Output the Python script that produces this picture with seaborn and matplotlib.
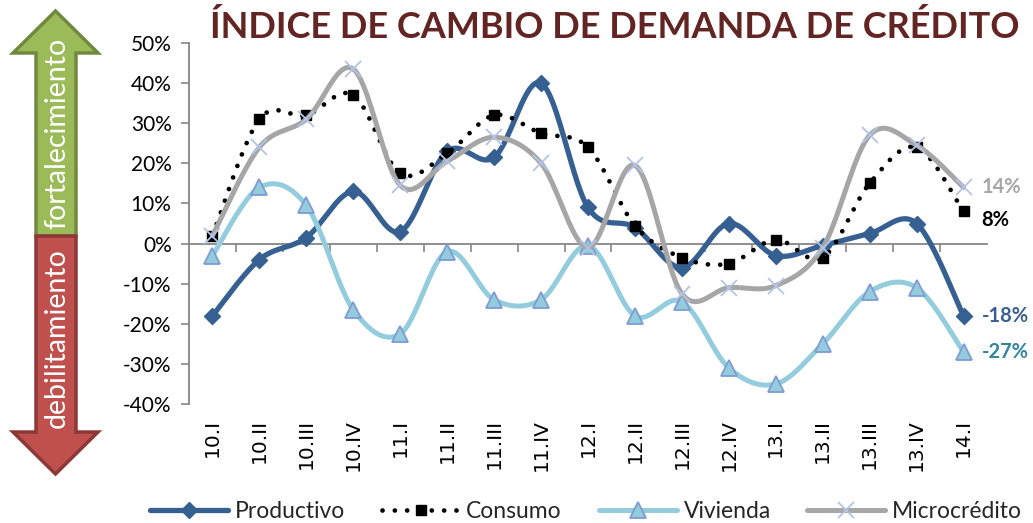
import numpy as np
import matplotlib
matplotlib.use("Agg")
import matplotlib.pyplot as plt
import seaborn as sns
from matplotlib.patches import Polygon
from matplotlib.lines import Line2D
from matplotlib.ticker import PercentFormatter, FixedLocator, NullLocator

# Quarterly credit-demand change index (%)
quarters = ["10.I", "10.II", "10.III", "10.IV", "11.I", "11.II", "11.III", "11.IV",
            "12.I", "12.II", "12.III", "12.IV", "13.I", "13.II", "13.III", "13.IV", "14.I"]
productivo = [-18, -4, 1.5, 13, 3, 23, 21.5, 40, 9, 4, -6, 5, -3, -0.5, 2.5, 5, -18]
consumo = [2, 31, 32, 37, 17.5, 22.5, 32, 27.5, 24, 4.5, -3.5, -5, 1, -3.5, 15, 24, 8]
vivienda = [-3, 14, 9.5, -16.5, -22.5, -2, -14, -14, -0.5, -18, -14.5, -31, -35, -25, -12, -11, -27]
microcredito = [2, 24, 31, 43.5, 14.5, 20.5, 26.5, 20, -1, 19.5, -12.5, -11, -10.5, -1, 27, 24.5, 14]
series_names = ["Productivo", "Consumo", "Vivienda", "Microcrédito"]

sns.set_theme(style="white")
plt.rcParams["font.family"] = ["Lato", "DejaVu Sans"]
plt.rcParams["axes.unicode_minus"] = False

W, H = 1033, 523
fig = plt.figure(figsize=(W / 100, H / 100), dpi=100)
ax = fig.add_axes([189 / W, 1 - 404 / H, (987 - 189) / W, (404 - 43) / H])


def smooth(values, n=24):
    """Bezier smoothing through every point (Catmull-Rom style control points)."""
    y = np.asarray(values, float)
    x = np.arange(len(y), dtype=float)
    xs, ys = [], []
    last = len(y) - 1
    for i in range(last):
        p0 = max(i - 1, 0)
        p3 = min(i + 2, last)
        c1 = (x[i] + (x[i + 1] - x[p0]) / 6, y[i] + (y[i + 1] - y[p0]) / 6)
        c2 = (x[i + 1] - (x[p3] - x[i]) / 6, y[i + 1] - (y[p3] - y[i]) / 6)
        t = np.linspace(0, 1, n, endpoint=(i == last - 1))
        a, b, c, d = (1 - t) ** 3, 3 * (1 - t) ** 2 * t, 3 * (1 - t) * t ** 2, t ** 3
        xs.append(a * x[i] + b * c1[0] + c * c2[0] + d * x[i + 1])
        ys.append(a * y[i] + b * c1[1] + c * c2[1] + d * y[i + 1])
    return np.concatenate(xs), np.concatenate(ys)


styles = {
    "Productivo": dict(data=productivo, color="#376092", lw=3.8, ls="-",
                       marker="D", ms=8, mfc="#376092", mec="#376092", mew=1.0),
    "Consumo": dict(data=consumo, color="#000000", lw=3.4, ls=(0, (0.01, 2.6)),
                    marker="s", ms=7.5, mfc="#000000", mec="#000000", mew=1.0),
    "Vivienda": dict(data=vivienda, color="#93CDDD", lw=3.6, ls="-",
                     marker="^", ms=12, mfc="#93CDDD", mec="#7F9BD2", mew=1.3),
    "Microcrédito": dict(data=microcredito, color="#A6A6A6", lw=3.6, ls="-",
                         marker="x", ms=12, mfc="none", mec="#B4C4E6", mew=1.3),
}

xpos = np.arange(len(quarters))
handles = []
for z, name in enumerate(series_names):
    st = styles[name]
    sx, sy = smooth(st["data"])
    sns.lineplot(x=sx, y=sy, sort=False, estimator=None, ax=ax, color=st["color"],
                 linewidth=st["lw"], linestyle=st["ls"], dash_capstyle="round",
                 solid_capstyle="round", legend=False, zorder=3 + 2 * z)
    ax.plot(xpos, st["data"], linestyle="none", marker=st["marker"], ms=st["ms"],
            mfc=st["mfc"], mec=st["mec"], mew=st["mew"], zorder=4 + 2 * z)
    handles.append(Line2D([], [], color=st["color"], lw=st["lw"], ls=st["ls"],
                          dash_capstyle="round", solid_capstyle="round",
                          marker=st["marker"], ms=st["ms"], mfc=st["mfc"],
                          mec=st["mec"], mew=st["mew"]))

# End-of-series value labels
end_labels = [("Microcrédito", "#A6A6A6", 0), ("Consumo", "#000000", -6),
              ("Productivo", "#376092", 0), ("Vivienda", "#31859C", 0)]
for name, col, dy in end_labels:
    v = styles[name]["data"][-1]
    ax.annotate(f"{v:.0f}%", xy=(xpos[-1], v), xytext=(13, dy), textcoords="offset points",
                ha="left", va="center", fontsize=14.5, fontweight="bold", color=col,
                annotation_clip=False)

# Axes: y from -40% to 50%, category axis crossing at zero
ax.set_xlim(-0.5, len(quarters) - 0.5)
ax.set_ylim(-40, 50)
ax.yaxis.set_major_locator(FixedLocator(np.arange(-40, 51, 10)))
ax.yaxis.set_major_formatter(PercentFormatter(xmax=100, decimals=0))
ax.tick_params(axis="y", which="major", direction="out", length=6, width=1.2,
               color="#868686", labelsize=15, pad=6.5, left=True, labelcolor="#000000")
for s in ("top", "right"):
    ax.spines[s].set_visible(False)
ax.spines["left"].set_color("#868686")
ax.spines["left"].set_linewidth(1.3)
ax.spines["bottom"].set_position(("data", 0))
ax.spines["bottom"].set_color("#868686")
ax.spines["bottom"].set_linewidth(1.3)
ax.xaxis.set_major_locator(NullLocator())
ax.xaxis.set_minor_locator(FixedLocator(np.arange(0.5, len(quarters) - 0.5, 1)))
ax.tick_params(axis="x", which="minor", direction="out", length=6, width=1.2,
               color="#868686", bottom=True, labelbottom=False)
ax.grid(False)

# Category labels below the plot area
for i, q in zip(xpos, quarters):
    ax.annotate(q, xy=(i, 0), xycoords=ax.get_xaxis_transform(), xytext=(0, -11),
                textcoords="offset points", rotation=90, ha="center", va="top",
                family="DejaVu Sans", fontsize=14.5, color="#000000",
                annotation_clip=False)

# Title
fig.text(615 / W, 1 - 27 / H, "ÍNDICE DE CAMBIO DE DEMANDA DE CRÉDITO", ha="center",
         va="center", fontsize=26, fontweight="bold", color="#632523")

# Legend
fig.legend(handles, series_names, loc="center", bbox_to_anchor=(586 / W, 1 - 512 / H),
           ncol=4, frameon=False, fontsize=16.5, handlelength=3.4, columnspacing=1.6,
           handletextpad=0.3, numpoints=1)

# Double-headed arrow: strengthening (up) / weakening (down)
def px(points):
    return [(x / W, 1 - y / H) for x, y in points]

green = px([(36, 236), (36, 53), (13, 53), (55.5, 11), (98, 53), (76, 53), (76, 236)])
red = px([(36, 236), (36, 432), (13, 432), (55.5, 474), (98, 432), (76, 432), (76, 236)])
fig.add_artist(Polygon(green, closed=True, transform=fig.transFigure, facecolor="#9BBB59",
                       edgecolor="#71893F", linewidth=2.5, joinstyle="miter"))
fig.add_artist(Polygon(red, closed=True, transform=fig.transFigure, facecolor="#C0504D",
                       edgecolor="#8C3836", linewidth=2.5, joinstyle="miter"))
fig.text(57 / W, 1 - 133 / H, "fortalecimiento", rotation=90, ha="center", va="center",
         fontsize=20.5, color="white")
fig.text(57 / W, 1 - 338 / H, "debilitamiento", rotation=90, ha="center", va="center",
         fontsize=20.5, color="white")

fig.savefig("out.png", dpi=100)
